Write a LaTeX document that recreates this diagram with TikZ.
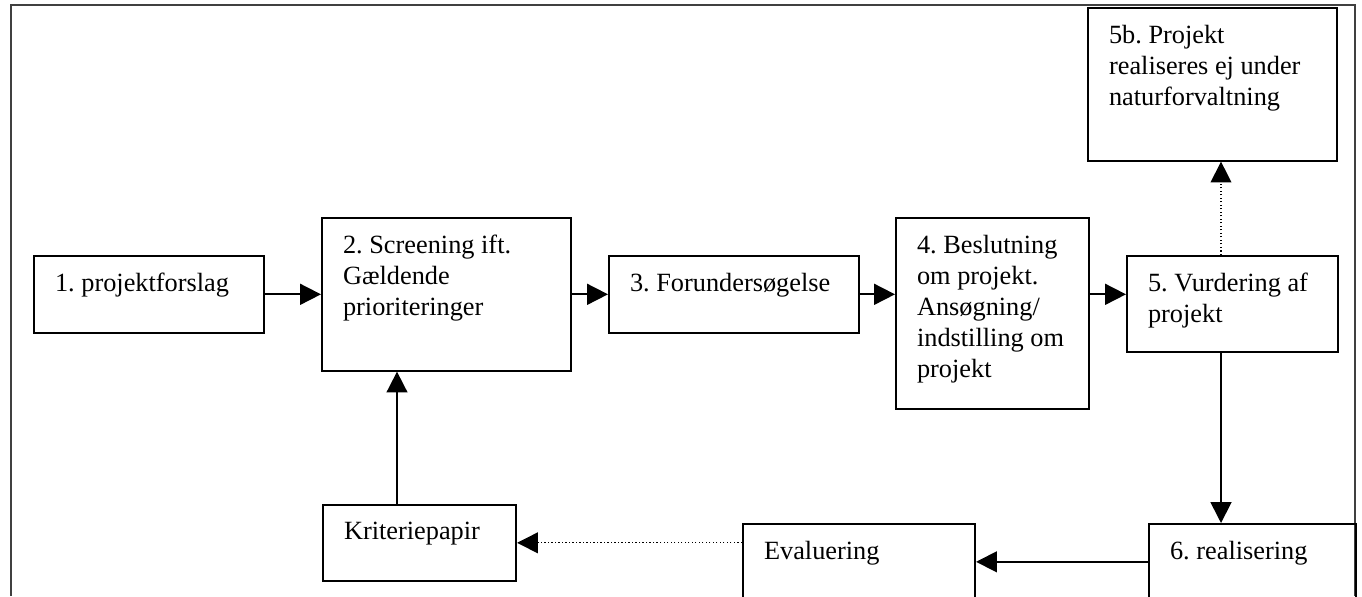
\documentclass[tikz,border=0pt]{standalone}
\usepackage{fontspec}
\setmainfont{Liberation Serif}
\usetikzlibrary{arrows.meta}
\newlength{\pxu}
\setlength{\pxu}{0.456pt}
\newcommand{\boxtext}[3]{\parbox[t][#2\pxu][t]{#1\pxu}{#3}}
\frenchspacing

\begin{document}
\begin{tikzpicture}[x=0.456pt, y=-0.456pt,
		stepbox/.style={draw, line width=0.9pt, anchor=north west, inner xsep=9.6pt, inner ysep=7.9pt,
										font=\fontsize{12}{14.1}\selectfont},
		link/.style={line width=0.8pt, -{Triangle[length=9.5pt,width=9.5pt]}},
		dotlink/.style={link, line width=0.6pt, densely dotted}]

		\useasboundingbox (0,0) rectangle (1362,596);
		\draw[line width=0.9pt, black!75] (11,596) -- (11,5) -- (1355,5) -- (1355,596);

		\node[stepbox] (b1) at (33,255) {\boxtext{188}{42}{1. projektforslag}};
		\node[stepbox] (b2) at (321,217) {\boxtext{207}{118}{2. Screening ift.\\Gældende\\prioriteringer}};
		\node[stepbox] (b3) at (608,255) {\boxtext{208}{42}{3. Forundersøgelse}};
		\node[stepbox] (b4) at (895,217) {\boxtext{151}{156}{4. Beslutning\\om projekt.\\Ansøgning/\\indstilling om\\projekt}};
		\node[stepbox] (b5) at (1126,255) {\boxtext{169}{61}{5. Vurdering af\\projekt}};
		\node[stepbox] (b5b) at (1087,7) {\boxtext{207}{118}{5b. Projekt\\realiseres ej under\\naturforvaltning}};
		\node[stepbox] (b6) at (1148,523) {\boxtext{165}{41}{6. realisering}};
		\node[stepbox] (eval) at (742,523) {\boxtext{190}{41}{Evaluering}};
		\node[stepbox] (krit) at (322,504) {\boxtext{151}{41}{Kriteriepapir}};

		\coordinate (vx) at (1221,0);
		\coordinate (kx) at (397,0);

		\draw[link] (b1.east) -- (b2.west);
		\draw[link] (b2.east) -- (b3.west);
		\draw[link] (b3.east) -- (b3.east -| b4.west);
		\draw[link] (b3.east -| b4.east) -- (b3.east -| b5.west);
		\draw[dotlink] (b5.north -| vx) -- (b5b.south -| vx);
		\draw[link] (b5.south -| vx) -- (b6.north -| vx);
		\draw[link] (b6.west) -- (eval.east);
		\draw[dotlink] (eval.west |- krit.east) -- (krit.east);
		\draw[link] (krit.north -| kx) -- (b2.south -| kx);

\end{tikzpicture}
\end{document}
